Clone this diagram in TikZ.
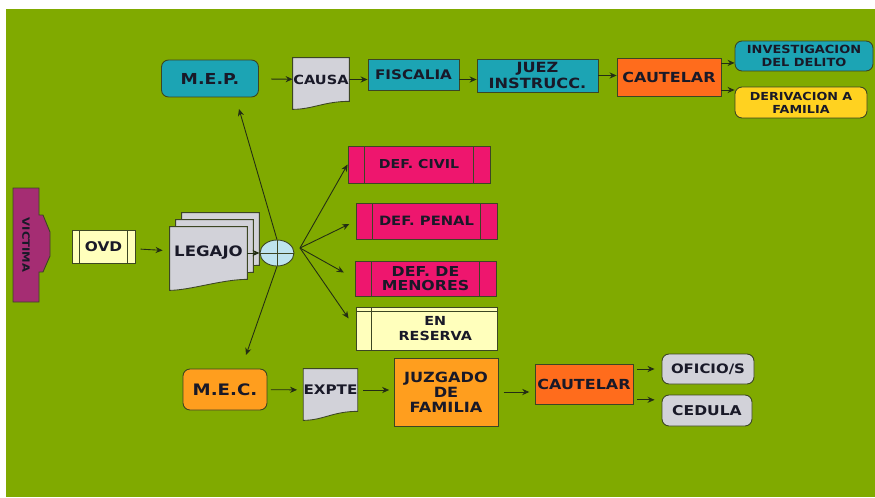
\documentclass[tikz,border=0pt]{standalone}
\usepackage{fontspec}
\setmainfont{DejaVu Sans}[FakeStretch=1.15]
\usepackage{xcolor}
\usetikzlibrary{arrows.meta,backgrounds,calc,positioning,shapes.geometric}

\definecolor{bggreen}{RGB}{128,170,0}
\definecolor{edge}{RGB}{60,70,35}
\definecolor{wire}{RGB}{35,45,20}
\definecolor{ink}{RGB}{25,25,40}
\definecolor{tealbox}{RGB}{28,164,180}
\definecolor{redorange}{RGB}{255,108,28}
\definecolor{orangebox}{RGB}{255,158,30}
\definecolor{yellowbox}{RGB}{255,210,32}
\definecolor{paleyellow}{RGB}{255,255,188}
\definecolor{pinkbox}{RGB}{238,22,110}
\definecolor{plum}{RGB}{165,45,115}
\definecolor{docgrey}{RGB}{210,210,217}
\definecolor{orblue}{RGB}{190,228,238}

\newcommand{\fsz}[2]{\fontsize{#1}{#2}\selectfont\bfseries}
% sheet with a wavy lower edge, drawn behind a node
\newcommand{\docsheet}[4]{%
	\path[docfill] ([shift={(#2,#3)}]#1.north west) -- ([shift={(#2,#3)}]#1.north east)
		-- ([shift={(#2,#3)}]#1.south east) .. controls +(-25,0) and +(20,0) .. ([shift={(#2,#3+#4)}]#1.south west) -- cycle;}

\tikzset{%
	box/.style      = {draw=edge, line width=0.5pt, rectangle, inner sep=0pt, align=center, text=ink},
	rbox/.style     = {box, rounded corners=4pt},
	procbox/.style  = {box, path picture={
		\draw[edge, line width=0.5pt] ([xshift=#1]path picture bounding box.north west) -- ([xshift=#1]path picture bounding box.south west)
			([xshift=-#1]path picture bounding box.north east) -- ([xshift=-#1]path picture bounding box.south east);}},
	storebox/.style = {box, path picture={
		\draw[edge, line width=0.5pt] ([xshift=9pt]path picture bounding box.north west) -- ([xshift=9pt]path picture bounding box.south west)
			([yshift=-2.8pt]path picture bounding box.north west) -- ([yshift=-2.8pt]path picture bounding box.north east);}},
	docbox/.style   = {rectangle, inner sep=0pt, align=center, text=ink},
	docfill/.style  = {fill=docgrey, draw=edge, line width=0.5pt},
	junction/.style = {ellipse, draw=edge, line width=0.5pt, fill=orblue, inner sep=0pt, path picture={
		\draw[edge] (path picture bounding box.north) -- (path picture bounding box.south)
			(path picture bounding box.west) -- (path picture bounding box.east);}},
	conn/.style     = {-{Stealth[length=4pt,width=3.5pt]}, line width=0.5pt, draw=wire},
}

\begin{document}
\begin{tikzpicture}[x=0.02cm, y=-0.02cm]
	\begin{scope}[on background layer]
		\fill[white] (0,0) rectangle (875,497);
		\fill[bggreen] (6,9) rectangle (875,497);
	\end{scope}
	\useasboundingbox (0,0) rectangle (875,497);

	% upper branch
	\node[rbox, fill=tealbox, minimum width=1.94cm, minimum height=0.74cm, font=\fsz{8.6}{10}] (mep) at (210,78.5) {M.E.P.};
	\node[docbox, minimum width=1.12cm, minimum height=0.86cm, font=\fsz{7.2}{9}] (causa) at (321,79.5) {CAUSA};
	\node[box, fill=tealbox, minimum width=1.82cm, minimum height=0.62cm, font=\fsz{7.5}{9}] (fiscalia) at (413.5,75) {FISCALIA};
	\node[box, fill=tealbox, minimum width=2.42cm, minimum height=0.66cm, font=\fsz{8}{9}] (juez) at (537.5,75.5) {JUEZ\\INSTRUCC.};
	\node[box, fill=redorange, minimum width=2.08cm, minimum height=0.76cm, font=\fsz{7.9}{9}] (caut1) at (669,77) {CAUTELAR};
	\node[rbox, fill=tealbox, minimum width=2.76cm, minimum height=0.60cm, font=\fsz{6.4}{7.4}] (invest) at (804,56) {INVESTIGACION\\DEL DELITO};
	\node[rbox, fill=yellowbox, minimum width=2.64cm, minimum height=0.62cm, font=\fsz{6.3}{7.4}] (deriv) at (801,102.5) {DERIVACION A\\FAMILIA};

	% middle
	\path[fill=plum, draw=edge, line width=0.5pt] (13,188) -- (39,188) -- (39,215) -- (43,215) -- (50,232) -- (50,256)
		-- (43,272) -- (39,272) -- (39,302) -- (13,302) -- cycle;
	\node[text=ink, inner sep=0pt, rotate=-90, font=\fsz{5.7}{7}] (victima) at (26,245) {VICTIMA};
	\node[procbox=4.3pt, fill=paleyellow, minimum width=1.26cm, minimum height=0.66cm, font=\fsz{7.6}{9}] (ovd) at (103.5,247) {OVD};
	\node[docbox, minimum width=1.54cm, minimum height=1.04cm, font=\fsz{8.2}{10}] (legajo) at (208.5,253) {LEGAJO};
	\node[junction, minimum width=0.68cm, minimum height=0.52cm] (or) at (277,253) {};
	\coordinate (fan) at (300,248);
	\coordinate (mepin) at (239,109);
	\coordinate (mecin) at (246,355);

	\node[procbox=9.6pt, fill=pinkbox, minimum width=2.84cm, minimum height=0.74cm, font=\fsz{7}{8.4}] (civil) at (419,164.5) {DEF. CIVIL};
	\node[procbox=9.4pt, fill=pinkbox, minimum width=2.82cm, minimum height=0.72cm, font=\fsz{7.3}{8.6}] (penal) at (426.5,221) {DEF. PENAL};
	\node[procbox=9.4pt, fill=pinkbox, minimum width=2.82cm, minimum height=0.70cm, font=\fsz{7.8}{7.9}] (menores) at (425.5,278.5) {DEF. DE\\MENORES};
	\node[storebox, fill=paleyellow, minimum width=2.82cm, minimum height=0.86cm, font=\fsz{7.1}{9}] (reserva) at (426.5,328.5) {\hspace*{10pt}EN\\\hspace*{10pt}RESERVA};

	% lower branch
	\node[rbox, fill=orangebox, minimum width=1.68cm, minimum height=0.82cm, font=\fsz{9}{10}] (mec) at (225,389.5) {M.E.C.};
	\node[docbox, minimum width=1.06cm, minimum height=0.84cm, font=\fsz{7.5}{9}] (expte) at (330.5,390) {EXPTE};
	\node[box, fill=orangebox, minimum width=2.08cm, minimum height=1.36cm, font=\fsz{8}{8.5}] (juzgado) at (446,392) {JUZGADO\\DE\\FAMILIA};
	\node[box, fill=redorange, minimum width=1.96cm, minimum height=0.80cm, font=\fsz{7.9}{9}] (caut2) at (584,384) {CAUTELAR};
	\node[rbox, fill=docgrey, minimum width=1.84cm, minimum height=0.60cm, font=\fsz{7.4}{9}] (oficio) at (708,369) {OFICIO/S};
	\node[rbox, fill=docgrey, minimum width=1.80cm, minimum height=0.62cm, font=\fsz{7.7}{9}] (cedula) at (707,410.5) {CEDULA};

	\begin{scope}[on background layer]
		\docsheet{causa}{0}{0}{8}
		\docsheet{legajo}{12}{-14}{11}
		\docsheet{legajo}{6}{-7}{11}
		\docsheet{legajo}{0}{0}{11}
		\docsheet{expte}{0}{0}{9}
	\end{scope}

	% connectors
	\draw[conn, shorten <=7pt] (mep) -- (causa);
	\draw[conn] (causa.east) -- (causa.east -| fiscalia.west);
	\draw[conn] (fiscalia.east |- causa.east) -- (juez.west |- causa.east);
	\draw[conn] (juez.east) -- (juez.east -| caut1.west);
	\draw[conn] ([yshift=8pt]caut1.east) -- ([yshift=8pt]caut1.east -| invest.west);
	\draw[conn] ([yshift=-7.4pt]caut1.east) -- ([yshift=-7.4pt]caut1.east -| deriv.west);
	\draw[conn, shorten <=3pt, shorten >=4pt] (ovd) -- (legajo);
	\draw[conn] (legajo) -- (or);
	\draw[conn] (or.north) -- (mepin);
	\draw[conn] (or.south) -- (mecin);
	\draw[conn] (fan) -- (civil.west);
	\draw[conn, shorten >=4pt] (fan) -- (penal.west);
	\draw[conn, shorten >=7pt] (fan) -- (menores.west);
	\draw[conn, shorten >=7pt] (fan) -- (reserva.west);
	\draw[conn, shorten <=2pt, shorten >=3.5pt] (mec) -- (expte);
	\draw[conn, shorten <=3pt, shorten >=2.5pt] (expte.east) -- (expte.east -| juzgado.west);
	\draw[conn, shorten <=3pt, shorten >=3pt] (juzgado.east) -- (juzgado.east -| caut2.west);
	\draw[conn, shorten <=2pt, shorten >=4pt] (caut2.east |- oficio.west) -- (oficio.west);
	\draw[conn, shorten <=2pt, shorten >=4pt] ([yshift=-9pt]caut2.east) -- ([yshift=-9pt]caut2.east -| cedula.west);
\end{tikzpicture}
\end{document}
